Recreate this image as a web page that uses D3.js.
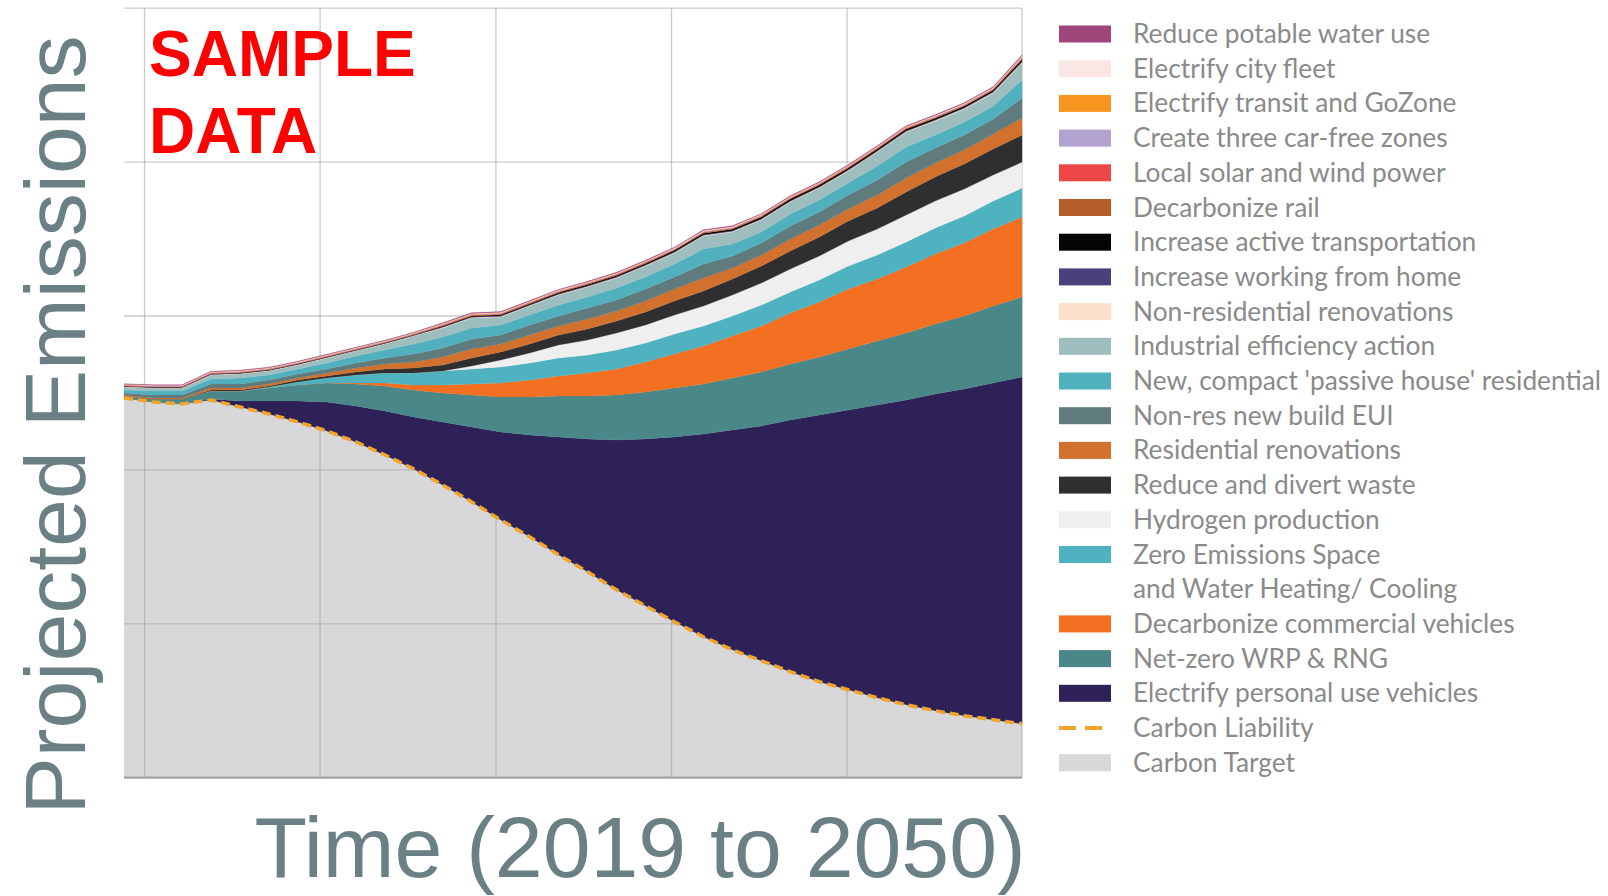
<!DOCTYPE html>
<html><head><meta charset="utf-8">
<script src="https://cdn.jsdelivr.net/npm/d3@7"></script>
<style>body{margin:0;background:#fff;} svg{display:block}</style>
</head><body>
<svg id="chart" width="1608" height="896"></svg>
<script>
// ---------- DATA (emissions, arbitrary kt units) ----------
const years = [2019,2020,2021,2022,2023,2024,2025,2026,2027,2028,2029,2030,2031,2032,2033,2034,2035,2036,2037,2038,2039,2040,2041,2042,2043,2044,2045,2046,2047,2048,2049,2050];

const carbonTarget = [380,376,374,378,371,364,356,347,336,323,309,293,276,258,241,223,206,188,172,156,141,128,117,106,96,88,80,73,67,62,58,54];
const electrifyPersonalVehicles = [0,0,0,1,6,13,21,29,36,44,52,63,75,88,102,118,133,150,167,185,203,220,235,252,267,280,293,305,317,327,337,347];
const netZeroWrpRng = [2,3,5,8,10,13,16,19,22,25,27,29,32,35,38,41,43,45,47,49,50,52,54,56,58,61,64,67,70,73,77,80];
const decarbonizeCommercialVehicles = [0,0,0,0,0,0,0,0,1,3,5,8,11,14,17,20,23,26,30,34,38,42,46,51,55,60,62,66,70,73,77,80];
const zeroEmissionsHeating = [0,0,0,0,0,1,3,5,8,10,12,14,15,16,17,18,18,19,19,20,20,20,21,21,22,23,24,25,26,27,28,29];
const hydrogenProduction = [0,0,0,0,0,0,0,0,0,0,0,0,3,7,10,13,15,17,18,19,20,21,22,23,24,25,26,27,27,27,26,26];
const reduceDivertWaste = [0,0,0,1,1,1,2,2,3,4,5,6,8,8,9,10,11,12,13,14,15,16,17,18,19,20,21,23,24,25,26,27];
const residentialRenovations = [1,1,1,2,2,2,2,3,4,5,6,8,9,8,9,9,10,10,11,12,13,11,11,12,12,12,13,14,14,14,15,17];
const nonResNewBuildEui = [2,3,3,4,4,4,4,4,5,6,8,9,10,9,10,10,11,11,12,12,14,12,12,13,13,14,15,16,15,15,15,20];
const passiveHouseResidential = [3,4,4,5,6,5,5,6,7,8,10,11,11,10,10,11,11,12,12,13,15,12,11,12,12,12,14,15,13,13,13,18];
const industrialEfficiency = [3,3,3,4,4,4,4,5,5,6,8,9,10,8,9,10,10,10,11,11,13,12,12,12,12,12,14,15,14,13,13,17];
const nonResRenovations = [0.4,0.4,0.4,0.5,0.5,0.5,0.5,0.5,0.5,0.5,0.5,0.7,0.7,0.7,0.7,0.7,0.7,0.7,0.7,0.7,0.8,0.8,0.8,0.8,0.8,0.8,0.8,0.8,0.8,0.8,0.8,1.0];
const workingFromHome = [0.3,0.3,0.3,0.4,0.4,0.4,0.4,0.4,0.4,0.4,0.4,0.5,0.5,0.5,0.5,0.5,0.5,0.5,0.5,0.5,0.6,0.6,0.6,0.6,0.6,0.6,0.6,0.6,0.6,0.6,0.6,0.8];
const activeTransportation = [0.2,0.2,0.2,0.3,0.3,0.3,0.3,0.3,0.3,0.3,0.3,0.8,0.9,1.0,1.1,1.2,1.3,1.4,1.4,1.5,1.5,1.5,1.6,1.6,1.6,1.6,1.6,1.6,1.6,1.6,1.6,1.8];
const decarbonizeRail = [0.3,0.3,0.3,0.3,0.3,0.3,0.3,0.3,0.3,0.3,0.3,0.5,0.5,0.5,0.5,0.5,0.5,0.5,0.5,0.5,0.6,0.6,0.6,0.6,0.6,0.6,0.6,0.6,0.6,0.6,0.6,0.8];
const localSolarWind = [0.3,0.3,0.3,0.3,0.3,0.3,0.3,0.3,0.3,0.3,0.3,0.4,0.4,0.4,0.4,0.4,0.4,0.4,0.4,0.4,0.4,0.4,0.4,0.4,0.4,0.4,0.4,0.4,0.4,0.4,0.4,0.6];
const carFreeZones = [0.5,0.5,0.5,0.6,0.6,0.6,0.6,0.6,0.6,0.6,0.6,0.6,0.6,0.6,0.6,0.6,0.6,0.6,0.6,0.6,0.6,0.6,0.6,0.6,0.6,0.6,0.6,0.6,0.6,0.6,0.6,0.8];
const electrifyTransit = [0.3,0.3,0.3,0.3,0.3,0.3,0.3,0.3,0.3,0.3,0.3,0.4,0.4,0.4,0.4,0.4,0.4,0.4,0.4,0.4,0.4,0.4,0.4,0.4,0.4,0.4,0.4,0.4,0.4,0.4,0.4,0.6];
const electrifyCityFleet = [0.4,0.4,0.4,0.5,0.5,0.5,0.5,0.5,0.5,0.5,0.5,0.6,0.6,0.6,0.6,0.6,0.6,0.6,0.6,0.6,0.7,0.7,0.7,0.7,0.7,0.7,0.7,0.7,0.7,0.7,0.7,0.9];
const reducePotableWater = [0.5,0.5,0.5,0.6,0.6,0.6,0.6,0.6,0.6,0.6,0.6,0.7,0.7,0.7,0.7,0.7,0.7,0.7,0.7,0.7,0.7,0.7,0.7,0.7,0.7,0.7,0.7,0.7,0.7,0.7,0.7,0.9];

// axis grid values (no labels shown)
const xGridYears = [2019.71, 2025.77, 2031.84, 2037.9, 2043.96, 2050];
const yGridValues = [0, 154, 308, 462, 616, 770];

// series: bottom of stack first
const series = [
  {key:"target", label:"Carbon Target", values:carbonTarget},
  {key:"ev", label:"Electrify personal use vehicles", values:electrifyPersonalVehicles},
  {key:"wrp", label:"Net-zero WRP & RNG", values:netZeroWrpRng},
  {key:"comm", label:"Decarbonize commercial vehicles", values:decarbonizeCommercialVehicles},
  {key:"ze", label:"Zero Emissions Space\nand Water Heating/ Cooling", values:zeroEmissionsHeating},
  {key:"h2", label:"Hydrogen production", values:hydrogenProduction},
  {key:"waste", label:"Reduce and divert waste", values:reduceDivertWaste},
  {key:"resreno", label:"Residential renovations", values:residentialRenovations},
  {key:"eui", label:"Non-res new build EUI", values:nonResNewBuildEui},
  {key:"passive", label:"New, compact 'passive house' residential", values:passiveHouseResidential},
  {key:"industrial", label:"Industrial efficiency action", values:industrialEfficiency},
  {key:"nonresreno", label:"Non-residential renovations", values:nonResRenovations},
  {key:"wfh", label:"Increase working from home", values:workingFromHome},
  {key:"active", label:"Increase active transportation", values:activeTransportation},
  {key:"rail", label:"Decarbonize rail", values:decarbonizeRail},
  {key:"solar", label:"Local solar and wind power", values:localSolarWind},
  {key:"carfree", label:"Create three car-free zones", values:carFreeZones},
  {key:"transit", label:"Electrify transit and GoZone", values:electrifyTransit},
  {key:"fleet", label:"Electrify city fleet", values:electrifyCityFleet},
  {key:"water", label:"Reduce potable water use", values:reducePotableWater}
];

// ---------- STYLES ----------
const colors = {
  target:"#d8d8db", ev:"#2e2157", wrp:"#4a8788", comm:"#f36f21", ze:"#4fb2c0", h2:"#efefef",
  waste:"#2f2f31", resreno:"#d2702d", eui:"#5f7b7d", passive:"#50b0be", industrial:"#9dbdbf",
  nonresreno:"#fde1cc", wfh:"#4b3f7c", active:"#050505", rail:"#b45e2a", solar:"#ec4646",
  carfree:"#b2a2d0", transit:"#f7951f", fleet:"#fbe6e6", water:"#a0467b"
};
const liabilityColor = "#f3a52a";

const plot = {left:124, right:1022, top:8.2, bottom:777.7};

const svg = d3.select("#chart");

const x = d3.scaleLinear().domain([years[0], years[years.length-1]]).range([plot.left, plot.right]);
const y = d3.scaleLinear().domain([0, 770]).range([plot.bottom, plot.top]);

// table for d3.stack
const table = years.map((yr, i) => {
  const row = {year: yr};
  series.forEach(s => row[s.key] = s.values[i]);
  return row;
});
const stacked = d3.stack().keys(series.map(s => s.key))(table);

const area = d3.area()
  .x(d => x(d.data.year))
  .y0(d => y(d[0]))
  .y1(d => y(d[1]))
  .curve(d3.curveLinear);

// Carbon target area first
svg.append("path")
  .datum(stacked[0])
  .attr("d", area)
  .attr("fill", colors.target);

// grid lines
const grid = svg.append("g").attr("class","grid");
grid.selectAll("line.v").data(xGridYears).join("line")
  .attr("class","v")
  .attr("x1", d => x(d)).attr("x2", d => x(d))
  .attr("y1", plot.top).attr("y2", plot.bottom)
  .attr("stroke", "#9a9a9a").attr("stroke-opacity", 0.5).attr("stroke-width", 1.3);
grid.selectAll("line.h").data(yGridValues.filter(v => v > 0)).join("line")
  .attr("class","h")
  .attr("x1", plot.left).attr("x2", plot.right)
  .attr("y1", d => y(d)).attr("y2", d => y(d))
  .attr("stroke", "#9a9a9a").attr("stroke-opacity", 0.5).attr("stroke-width", 1.3);

// stacked reduction wedges
svg.append("g").selectAll("path").data(stacked.slice(1)).join("path")
  .attr("d", area)
  .attr("fill", d => colors[d.key])
  .attr("stroke", d => colors[d.key])
  .attr("stroke-width", 0.3);

// carbon liability dashed line (top of target)
const line = d3.line().x(d => x(d.data.year)).y(d => y(d[1])).curve(d3.curveLinear);
svg.append("path")
  .datum(stacked[0])
  .attr("d", line)
  .attr("fill", "none")
  .attr("stroke", liabilityColor)
  .attr("stroke-width", 3.5)
  .attr("stroke-dasharray", "9,5");

// bottom axis line
svg.append("line")
  .attr("x1", plot.left).attr("x2", plot.right)
  .attr("y1", y(0)).attr("y2", y(0))
  .attr("stroke", "#a3a3a3").attr("stroke-width", 2.2);

// axis titles
svg.append("text")
  .attr("transform", `translate(85,425) rotate(-90)`)
  .attr("text-anchor", "middle")
  .attr("font-family", "'Liberation Sans', Arial, sans-serif")
  .attr("font-size", 86)
  .attr("fill", "#6a8084")
  .text("Projected Emissions");

svg.append("text")
  .attr("x", 640)
  .attr("y", 877)
  .attr("text-anchor", "middle")
  .attr("font-family", "'Liberation Sans', Arial, sans-serif")
  .attr("font-size", 86)
  .attr("fill", "#6a8084")
  .text("Time (2019 to 2050)");

// SAMPLE DATA stamp
const stamp = svg.append("text")
  .attr("font-family", "'Liberation Sans', Arial, sans-serif")
  .attr("font-weight", "bold")
  .attr("font-size", 64)
  .attr("fill", "#ff0000");
stamp.append("tspan").attr("x", 149).attr("y", 76).text("SAMPLE");
stamp.append("tspan").attr("x", 149).attr("y", 153).text("DATA");

// legend (top of stack first)
const legendItems = series.slice(1).reverse().map(s => ({type:"area", key:s.key, label:s.label}));
legendItems.push({type:"line", key:"liability", label:"Carbon Liability"});
legendItems.push({type:"area", key:"target", label:"Carbon Target"});

const legend = svg.append("g").attr("font-family", "Lato, 'Open Sans', sans-serif").attr("font-size", 26.3).attr("fill", "#8a8a8a");
let row = 0;
legendItems.forEach(item => {
  const cy = 34 + row * 34.7;
  if (item.type === "area") {
    legend.append("rect").attr("x", 1059).attr("y", cy - 8.5).attr("width", 52).attr("height", 17)
      .attr("fill", colors[item.key]);
  } else {
    legend.append("line").attr("x1", 1059).attr("x2", 1111).attr("y1", cy).attr("y2", cy)
      .attr("stroke", liabilityColor).attr("stroke-width", 4).attr("stroke-dasharray", "17,9");
  }
  const lines = item.label.split("\n");
  lines.forEach((t, j) => {
    legend.append("text").attr("x", 1133).attr("y", cy + 9 + j * 34.7).text(t);
  });
  row += lines.length;
});
</script>
</body></html>
